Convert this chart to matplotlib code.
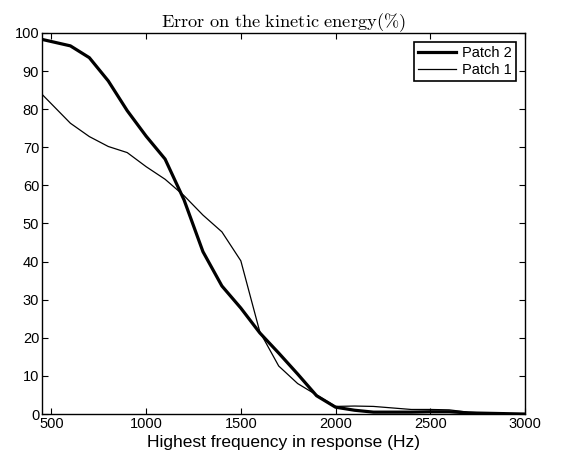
import numpy as np
import matplotlib.pyplot as plt

plt.rcParams['font.family'] = ['Liberation Sans', 'DejaVu Sans']
plt.rcParams['mathtext.fontset'] = 'cm'

freq = [450, 600, 700, 800, 900, 1000, 1100, 1200, 1300, 1400, 1500, 1600, 1700,
        1800, 1900, 2000, 2100, 2200, 2300, 2400, 2500, 2600, 2700, 2800, 2900, 3000]
patch2 = [98.3, 96.6, 93.5, 87.4, 79.6, 72.9, 66.9, 56.2, 42.6, 33.6, 27.8, 21.3, 16.0,
          10.5, 4.8, 1.8, 1.0, 0.5, 0.5, 0.5, 0.6, 0.6, 0.3, 0.2, 0.1, 0.0]
patch1 = [83.9, 76.3, 72.8, 70.2, 68.6, 64.9, 61.6, 57.3, 52.2, 47.8, 40.2, 21.6, 12.6,
          8.0, 5.0, 2.0, 2.1, 2.0, 1.6, 1.2, 1.2, 1.1, 0.5, 0.2, 0.1, 0.0]

fig = plt.figure(figsize=(5.62, 4.57), dpi=100)
ax = fig.add_axes([0.0747, 0.094, 0.8593, 0.834])
ax.plot(freq, patch2, color='black', linewidth=2.3, label='Patch 2')
ax.plot(freq, patch1, color='black', linewidth=0.9, label='Patch 1')

ax.set_xlim(450, 3000)
ax.set_ylim(0, 100)
ax.set_xticks(np.arange(500, 3001, 500))
ax.set_yticks(np.arange(0, 101, 10))
ax.tick_params(direction='in', top=True, right=True, labelsize=10.5, length=4, pad=2)
for s in ax.spines.values():
    s.set_linewidth(1.0)

ax.set_xlabel('Highest frequency in response (Hz)', fontsize=12.5, labelpad=3)
ax.set_title(r'$\mathrm{Error\ on\ the\ kinetic\ energy}(\%)$', fontsize=13.2, pad=4)

leg = ax.legend(loc='upper right', fontsize=10.5, fancybox=False, framealpha=1,
                edgecolor='black', handlelength=2.6, borderaxespad=0.6,
                labelspacing=0.2, handletextpad=0.4, borderpad=0.3)
leg.get_frame().set_linewidth(1.2)

fig.savefig('out.png', dpi=100)
